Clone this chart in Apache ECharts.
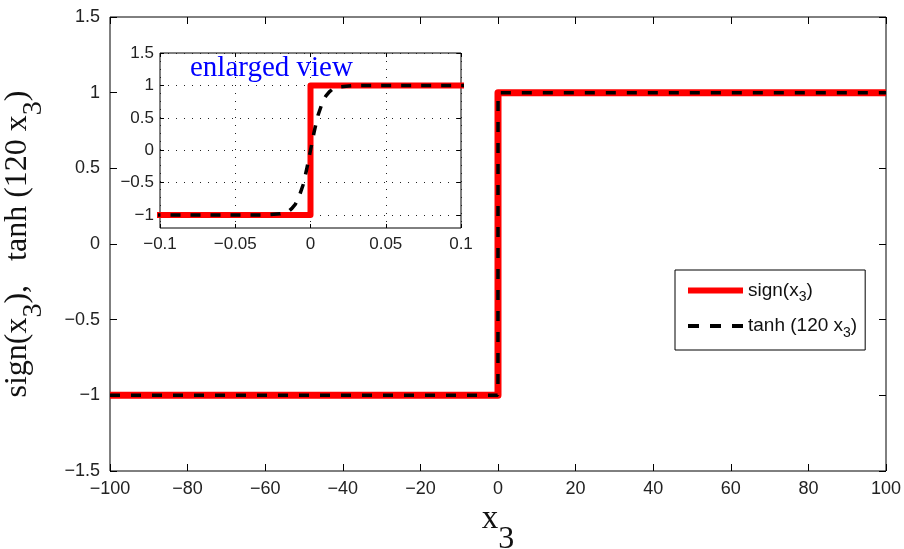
<!DOCTYPE html>
<html><head><meta charset="utf-8">
<script src="https://cdn.jsdelivr.net/npm/echarts@6/dist/echarts.min.js"></script>
<style>html,body{margin:0;padding:0;background:#fff}#c{width:904px;height:549px}</style>
</head><body><div id="c"></div>
<script>
// ---- data ----
const signX = [-100, 0, 0, 100];
const signY = [-1, -1, 1, 1];
const tanhX = [-100, -0.1, -0.03, -0.02, -0.015, -0.0125, -0.01, -0.0075, -0.005, -0.0025, 0, 0.0025, 0.005, 0.0075, 0.01, 0.0125, 0.015, 0.02, 0.03, 0.1, 100];
const tanhY = [-1, -1, -1, -0.98, -0.95, -0.9, -0.83, -0.71, -0.54, -0.29, 0, 0.29, 0.54, 0.71, 0.83, 0.9, 0.95, 0.98, 1, 1, 1];
const insetYTicks = [-1, -0.5, 0, 0.5, 1, 1.5];
const seriesNames = ['sign', 'tanh'];

const zip = (xs, ys) => xs.map((x, i) => [x, ys[i]]);
const minus = v => String(v).replace('-', '\u2212');
const sans = 'Liberation Sans, Arial, Helvetica, sans-serif';
const serif = 'Liberation Serif, Times New Roman, serif';
const labelStyle = {fontFamily: sans, fontSize: 18, color: '#222'};
const insetLabelStyle = {fontFamily: sans, fontSize: 17, color: '#222'};
const tick = (len) => ({inside: true, length: len, lineStyle: {color: '#000', width: 1}});
const noLine = {show: false, onZero: false};

const chart = echarts.init(document.getElementById('c'));
chart.setOption({
  animation: false,
  backgroundColor: '#fff',
  title: {
    text: 'enlarged view', left: 190, top: 54, padding: 0, z: 20,
    textStyle: {fontFamily: serif, fontSize: 29, fontWeight: 'normal', color: '#0000ff'}
  },
  legend: {
    orient: 'vertical', left: 675, top: 270, z: 10,
    data: [
      {name: seriesNames[0], itemStyle: {opacity: 0}, lineStyle: {width: 6, color: '#ff0000', type: 'solid'}},
      {name: seriesNames[1], itemStyle: {opacity: 0}, lineStyle: {width: 4, color: '#000', type: [11, 11]}}
    ],
    backgroundColor: '#fff', borderColor: '#000', borderWidth: 1,
    padding: [11, 8, 10, 10], itemGap: 12, itemWidth: 55, itemHeight: 14,
    formatter: n => n === 'sign' ? '{a|sign(x}{s|3}{a|)}' : '{a|tanh (120 x}{s|3}{a|)}',
    textStyle: {
      rich: {
        a: {fontFamily: sans, fontSize: 19, color: '#111'},
        s: {fontFamily: sans, fontSize: 14, color: '#111', padding: [14, 0, 0, 0]}
      }
    }
  },
  grid: [
    {left: 110, right: 18, top: 17, bottom: 78, show: true, borderColor: '#000', borderWidth: 1, outerBoundsMode: 'none', containLabel: false},
    {left: 160, right: 443, top: 53, bottom: 321, show: true, borderColor: '#000', borderWidth: 1, backgroundColor: '#fff', z: 5, outerBoundsMode: 'none', containLabel: false}
  ],
  xAxis: [
    {gridIndex: 0, type: 'value', min: -100, max: 100, interval: 20,
     axisLine: noLine, axisTick: tick(7),
     splitLine: {show: false}, axisLabel: Object.assign({formatter: minus, margin: 9}, labelStyle),
     name: '{x|x}{s|3}', nameLocation: 'middle', nameGap: 8,
     nameTextStyle: {rich: {x: {fontFamily: serif, fontSize: 33, color: '#111'}, s: {fontFamily: serif, fontSize: 32, color: '#111', padding: [40, 0, 0, 0]}}}},
    {gridIndex: 0, type: 'value', position: 'top', min: -100, max: 100, interval: 20,
     axisLine: noLine, axisTick: tick(7), splitLine: {show: false}, axisLabel: {show: false}},
    {gridIndex: 1, type: 'value', min: -0.1, max: 0.1, interval: 0.05, z: 6,
     axisLine: noLine, axisTick: tick(4),
     splitLine: {show: true, lineStyle: {color: '#222', type: [1, 7], width: 1}},
     axisLabel: Object.assign({formatter: minus, margin: 8}, insetLabelStyle)},
    {gridIndex: 1, type: 'value', position: 'top', min: -0.1, max: 0.1, interval: 0.05, z: 6,
     axisLine: noLine, axisTick: tick(4), splitLine: {show: false}, axisLabel: {show: false}}
  ],
  yAxis: [
    {gridIndex: 0, type: 'value', min: -1.5, max: 1.5, interval: 0.5,
     axisLine: noLine, axisTick: tick(7),
     splitLine: {show: false}, axisLabel: Object.assign({formatter: minus, margin: 10}, labelStyle),
     name: '{a|sign(x}{s|3}{a|),   tanh (120 x}{s|3}{a|)}', nameLocation: 'middle', nameGap: 62, nameRotate: 90,
     nameTextStyle: {rich: {a: {fontFamily: serif, fontSize: 32, color: '#111'}, s: {fontFamily: serif, fontSize: 28, color: '#111', padding: [32, 0, 0, 0]}}}},
    {gridIndex: 0, type: 'value', position: 'right', min: -1.5, max: 1.5, interval: 0.5,
     axisLine: noLine, axisTick: tick(7), splitLine: {show: false}, axisLabel: {show: false}},
    {gridIndex: 1, type: 'value', min: -1.2, max: 1.5, z: 6,
     axisLine: noLine,
     axisTick: Object.assign({customValues: insetYTicks}, tick(4)),
     splitLine: {show: true, lineStyle: {color: '#222', type: [1, 7], width: 1}},
     axisLabel: Object.assign({formatter: minus, margin: 6, customValues: insetYTicks}, insetLabelStyle)},
    {gridIndex: 1, type: 'value', position: 'right', min: -1.2, max: 1.5, z: 6,
     axisLine: noLine,
     axisTick: Object.assign({customValues: insetYTicks}, tick(4)),
     splitLine: {show: false}, axisLabel: {show: false}}
  ],
  series: [
    {name: seriesNames[0], type: 'line', xAxisIndex: 0, yAxisIndex: 0, data: zip(signX, signY), symbol: 'none',
     lineStyle: {color: '#ff0000', width: 7, join: 'round'}, itemStyle: {color: '#ff0000'}, z: 2},
    {name: seriesNames[1], type: 'line', xAxisIndex: 0, yAxisIndex: 0, data: zip(tanhX, tanhY), symbol: 'none',
     lineStyle: {color: '#000', width: 3.5, type: [10, 11]}, itemStyle: {color: '#000'}, z: 3},
    {name: seriesNames[0], type: 'line', xAxisIndex: 2, yAxisIndex: 2, data: zip(signX, signY), symbol: 'none',
     lineStyle: {color: '#ff0000', width: 6, join: 'round'}, itemStyle: {color: '#ff0000'}, z: 7},
    {name: seriesNames[1], type: 'line', xAxisIndex: 2, yAxisIndex: 2, data: zip(tanhX, tanhY), symbol: 'none',
     lineStyle: {color: '#000', width: 3.5, type: [10, 10]}, itemStyle: {color: '#000'}, z: 8}
  ]
});
</script></body></html>
